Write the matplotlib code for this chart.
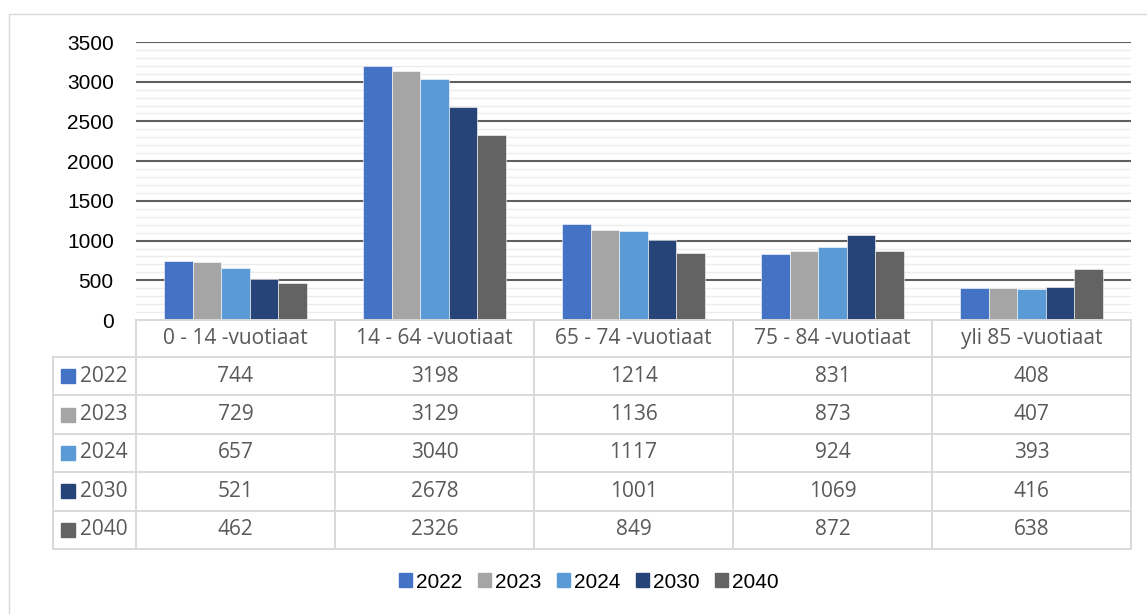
import matplotlib.pyplot as plt
from matplotlib.lines import Line2D
from matplotlib.patches import Patch

categories = ['0 - 14 -vuotiaat', '14 - 64 -vuotiaat', '65 - 74 -vuotiaat',
              '75 - 84 -vuotiaat', 'yli 85 -vuotiaat']
years = ['2022', '2023', '2024', '2030', '2040']
v2022 = [744, 3198, 1214, 831, 408]
v2023 = [729, 3129, 1136, 873, 407]
v2024 = [657, 3040, 1117, 924, 393]
v2030 = [521, 2678, 1001, 1069, 416]
v2040 = [462, 2326, 849, 872, 638]
series = [v2022, v2023, v2024, v2030, v2040]
colors = ['#4472C4', '#A5A5A5', '#5B9BD5', '#264478', '#636363']
major_ticks = [0, 500, 1000, 1500, 2000, 2500, 3000, 3500]

narrow = ['Liberation Sans Narrow', 'Liberation Sans', 'DejaVu Sans']
table_font = ['Open Sans', 'DejaVu Sans']
grid_col = '#d9d9d9'

W, H = 1147, 614
fig = plt.figure(figsize=(W / 100, H / 100), dpi=100)


def px(l, t, r, b):
    return [l / W, 1 - b / H, (r - l) / W, (b - t) / H]


# bar chart
ax = fig.add_axes(px(136, 42, 1131, 320))
bw = 1 / 7
for j, vals in enumerate(series):
    xs = [i + bw * (1 + j) + bw / 2 for i in range(len(categories))]
    ax.bar(xs, vals, width=bw, color=colors[j], edgecolor='white',
           linewidth=0.4, zorder=3)

for v in range(100, 3500, 100):
    if v % 500:
        ax.axhline(v, color='#ececec', lw=1.0, zorder=1)
for v in major_ticks[1:]:
    ax.axhline(v, color='#5f5f5f', lw=1.5, zorder=2)

ax.set_xlim(0, len(categories))
ax.set_ylim(0, 3500)
ax.set_xticks([])
ax.set_yticks(major_ticks)
ax.set_yticklabels([str(t) for t in major_ticks], family=narrow, fontsize=15)
ax.tick_params(axis='y', length=0, pad=16)
for s in ax.spines.values():
    s.set_visible(False)

# data table below
tax = fig.add_axes(px(53, 320, 1131, 549))
x0 = -83 / 199
hh = 0.96
nrows = len(years)
tax.set_xlim(x0, len(categories))
tax.set_ylim(hh + nrows, 0)
tax.axis('off')

lw = 1.4
tax.plot([0, len(categories)], [0, 0], color=grid_col, lw=lw, clip_on=False)
for r in range(nrows + 1):
    tax.plot([x0, len(categories)], [hh + r, hh + r], color=grid_col, lw=lw, clip_on=False)
tax.plot([x0, x0], [hh, hh + nrows], color=grid_col, lw=lw, clip_on=False)
for c in range(len(categories) + 1):
    tax.plot([c, c], [0, hh + nrows], color=grid_col, lw=lw, clip_on=False)

for i, cat in enumerate(categories):
    tax.text(i + 0.5, hh / 2, cat, ha='center', va='center',
             family=table_font, fontsize=15, color='#595959')

for r, (yr, vals) in enumerate(zip(years, series)):
    yc = hh + r + 0.5
    tax.plot([(68 - 136) / 199], [yc], marker='s', ms=10, color=colors[r],
             linestyle='none', clip_on=False)
    tax.text((80 - 136) / 199, yc, yr, ha='left', va='center',
             family=table_font, fontsize=15, color='#595959')
    for i, v in enumerate(vals):
        tax.text(i + 0.5, yc, str(v), ha='center', va='center',
                 family=table_font, fontsize=15, color='#595959')

# legend
handles = [Patch(color=c, label=y) for c, y in zip(colors, years)]
fig.legend(handles=handles, loc='center', bbox_to_anchor=(589 / W, 1 - 582 / H),
           ncol=5, frameon=False, prop={'family': narrow, 'size': 15},
           handlelength=0.62, handleheight=0.62, handletextpad=0.2,
           columnspacing=0.75)

# outer chart frame
fig.add_artist(Line2D([8.5 / W, 8.5 / W], [0, 1 - 13.5 / H], color=grid_col, lw=1))
fig.add_artist(Line2D([8.5 / W, 1], [1 - 13.5 / H, 1 - 13.5 / H], color=grid_col, lw=1))

fig.savefig('out.png', dpi=100, facecolor='white')
